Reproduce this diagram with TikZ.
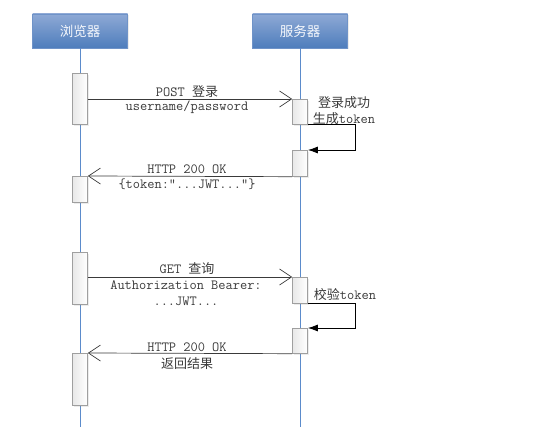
\documentclass[tikz,border=0pt]{standalone}
\usepackage{fontspec}
\newfontfamily\cjk{Noto Sans CJK SC}
\usetikzlibrary{arrows.meta,shadows}
\definecolor{headtop}{HTML}{8EA9D5}
\definecolor{headbot}{HTML}{4E7DBC}
\definecolor{headline}{HTML}{6F93C8}
\definecolor{lifecol}{HTML}{5B8BCB}
\definecolor{txtcol}{HTML}{3A3A3A}
\tikzset{
  head/.style={draw=headline, top color=headtop, bottom color=headbot, minimum width=95pt, minimum height=34pt, inner sep=0pt, text=white!92!headtop, font=\cjk\fontsize{13.5}{14}\selectfont, drop shadow={opacity=0.15, shadow xshift=1.5pt, shadow yshift=-1.5pt}},
  bar/.style={draw=gray!75, line width=0.7pt, left color=gray!18, right color=white, minimum width=15pt, inner sep=0pt, anchor=north, drop shadow={opacity=0.15, shadow xshift=1.5pt, shadow yshift=-1.5pt}},
  lifeline/.style={draw=lifecol, line width=0.7pt},
  msg/.style={draw=txtcol, line width=0.7pt, -{Straight Barb[length=12pt,width=16pt,line width=0.7pt]}},
  self/.style={draw=black, line width=0.8pt, -{Latex[length=10pt,width=7pt]}},
  lbl/.style={text=txtcol, inner sep=0pt, font=\ttfamily\fontsize{14}{16}\selectfont, align=center},
}
\newcommand{\zh}[1]{{\cjk\fontsize{13}{16}\selectfont #1}}
\begin{document}
\begin{tikzpicture}[x=1pt,y=-1pt]
\useasboundingbox (0,0) rectangle (535,438);
% lifelines
\node [head] (browser) at (80,31) {浏览器};
\node [head] (server) at (300,31) {服务器};
\coordinate (bend) at (80,427);
\coordinate (send) at (300,427);
\draw [lifeline] (browser) -- (bend);
\draw [lifeline] (server) -- (send);
%
\node [bar, minimum height=51pt] (b1) at (80,73) {};
\node [bar, minimum height=25pt] (s1) at (300,99) {};
\node [bar, minimum height=26pt] (s2) at (300,150) {};
\node [bar, minimum height=26pt] (b2) at (80,176) {};
\node [bar, minimum height=52pt] (b3) at (80,252) {};
\node [bar, minimum height=26pt] (s3) at (300,277) {};
\node [bar, minimum height=25pt] (s4) at (300,328) {};
\node [bar, minimum height=52pt] (b4) at (80,353) {};
%
\draw [msg] (b1.east |- s1.north west) -- (s1.north west);
\draw [self] (s1.south east) -- ++(48,0) |- (s2.north east);
\draw [msg] (s2.south west) -- (b2.north east);
\draw [msg] (b3.east |- s3.north west) -- (s3.north west);
\draw [self] (s3.south east) -- ++(48,0) |- (s4.north east);
\draw [msg] (s4.south west) -- (b4.north east);
%
\node [lbl] (login) at (187,92) {POST \zh{登录}};
\node [lbl] (cred) at (187,107) {username/password};
\node [lbl] (sign) at (344,111) {\zh{登录成功}\\\zh{生成}token};
\node [lbl] (ok1) at (187,169) {HTTP 200 OK};
\node [lbl] (tok) at (187,184) {\{token:”...JWT...”\}};
\node [lbl] (query) at (187,269) {GET \zh{查询}};
\node [lbl] (auth) at (186,293) {Authorization Bearer:\\...JWT...};
\node [lbl] (check) at (345,295) {\zh{校验}token};
\node [lbl] (ok2) at (187,347) {HTTP 200 OK};
\node [lbl] (res) at (187,364) {\zh{返回结果}};
\end{tikzpicture}
\end{document}
